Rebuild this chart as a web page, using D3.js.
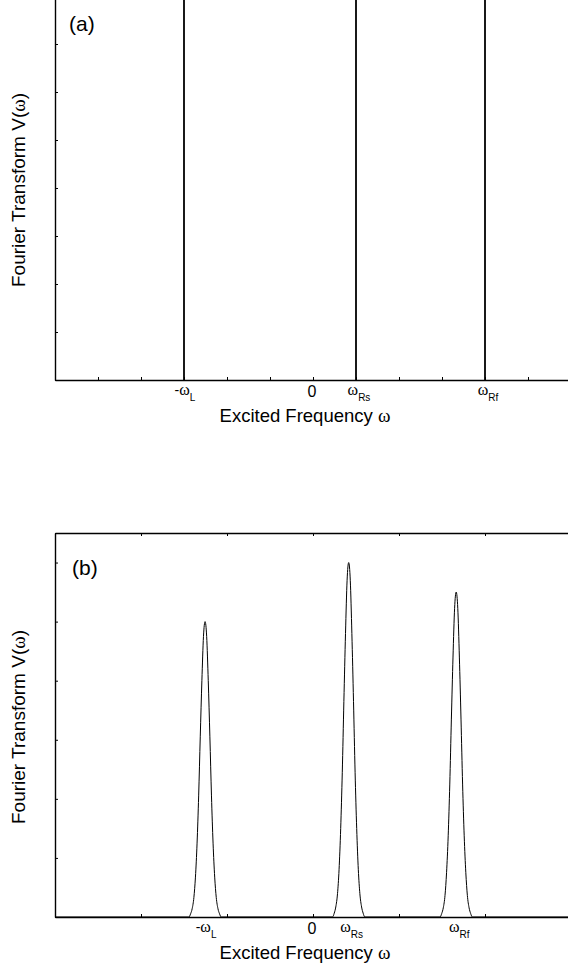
<!DOCTYPE html>
<html>
<head>
<meta charset="utf-8">
<script src="https://cdn.jsdelivr.net/npm/d3@7"></script>
<style>
  html, body { margin: 0; padding: 0; background: #fff; }
  svg { display: block; }
  text { font-family: "Liberation Sans", Arial, sans-serif; fill: #000; }
</style>
</head>
<body>
<script>
// ---------- DATA ----------
// x axis in arbitrary frequency units (0 at the origin)
const xDomain = [-6, 6];

// Panel (a): delta-function lines
const deltaPositions = [-3, 1, 4];
const tickLabelsA = ["-ωL", "0", "ωRs", "ωRf"];
const tickPositionsA = [-3, 0, 1, 4];
const yDomainA = [0, 8];

// Panel (b): broadened peaks
const peakLX = [-2.886,-2.846,-2.810,-2.770,-2.734,-2.696,-2.659,-2.622,-2.584,-2.547,-2.510,-2.473,-2.436,-2.398,-2.361,-2.324,-2.286,-2.250,-2.210,-2.174,-2.134];
const peakLY = [0,0.011,0.028,0.066,0.135,0.25,0.41,0.61,0.80,0.95,1.0,0.95,0.80,0.61,0.41,0.25,0.135,0.066,0.028,0.011,0];
const peakRsX = [0.454,0.494,0.530,0.570,0.606,0.644,0.681,0.718,0.756,0.793,0.830,0.867,0.904,0.942,0.979,1.016,1.054,1.090,1.130,1.166,1.206];
const peakRsY = [0,0.013,0.034,0.079,0.16,0.30,0.49,0.73,0.96,1.14,1.2,1.14,0.96,0.73,0.49,0.30,0.16,0.079,0.034,0.013,0];
const peakRfX = [2.954,2.994,3.030,3.070,3.106,3.144,3.181,3.218,3.256,3.293,3.330,3.367,3.404,3.442,3.479,3.516,3.554,3.590,3.630,3.666,3.706];
const peakRfY = [0,0.012,0.031,0.073,0.15,0.275,0.45,0.67,0.88,1.045,1.1,1.045,0.88,0.67,0.45,0.275,0.15,0.073,0.031,0.012,0];
const tickLabelsB = ["-ωL", "0", "ωRs", "ωRf"];
const tickPositionsB = [-2.51, 0, 0.83, 3.33];
const yDomainB = [0, 1.3];

const xTitle = "Excited Frequency ";
const yTitle = "Fourier Transform V(";
const panelLabels = ["(a)", "(b)"];

// ---------- LAYOUT ----------
const W = 568, H = 970;
const svg = d3.select("body").append("svg").attr("width", W).attr("height", H);

const x = d3.scaleLinear().domain(xDomain).range([55, 571]);
const yA = d3.scaleLinear().domain(yDomainA).range([380, -4]);
const yB = d3.scaleLinear().domain(yDomainB).range([917, 533]);

function drawFrame(y, yTickStep, xBottomStep, xTopStep) {
  const g = svg.append("g");
  const [y0, y1] = y.range();
  const bottomAxis = d3.axisBottom(x)
    .tickValues(d3.range(xDomain[0], xDomain[1] + 0.001, xBottomStep))
    .tickSize(-3).tickSizeOuter(0).tickFormat("");
  g.append("g").attr("transform", `translate(0,${y0})`).call(bottomAxis);
  const topAxis = d3.axisTop(x)
    .tickValues(d3.range(xDomain[0], xDomain[1] + 0.001, xTopStep))
    .tickSize(-3).tickSizeOuter(0).tickFormat("");
  g.append("g").attr("transform", `translate(0,${y1})`).call(topAxis);
  const dom = y.domain();
  const leftAxis = d3.axisLeft(y)
    .tickValues(d3.range(dom[0], dom[1] + 1e-6, yTickStep))
    .tickSize(-3).tickSizeOuter(0).tickFormat("");
  g.append("g").attr("transform", `translate(${x.range()[0]},0)`).call(leftAxis);
  g.append("g").attr("transform", `translate(${x.range()[1]},0)`).call(d3.axisRight(y)
    .tickValues(d3.range(dom[0], dom[1] + 1e-6, yTickStep))
    .tickSize(-3).tickSizeOuter(0).tickFormat(""));
  g.selectAll(".domain").attr("stroke", "#000").attr("stroke-width", 1.4);
  g.selectAll(".tick line").attr("stroke", "#000").attr("stroke-width", 1);
}

function drawTickLabels(labels, positions, axisY) {
  labels.forEach((lab, i) => {
    const px = x(positions[i]);
    const t = svg.append("text").attr("x", px).attr("y", axisY + 15)
      .attr("text-anchor", "middle");
    if (lab === "0") {
      t.attr("x", px - 1).attr("y", axisY + 17).style("font-size", "16px").text("0");
      return;
    }
    const hasMinus = lab.startsWith("-");
    const sub = lab.replace("-", "").slice(1);
    if (hasMinus) t.append("tspan").style("font-size", "14px").text("-");
    t.append("tspan").style("font-family", "'Liberation Serif', 'DejaVu Serif', serif")
      .style("font-size", "16px").text("ω");
    t.append("tspan").attr("dy", 6).style("font-size", "10px").text(sub);
    t.attr("dx", hasMinus ? 1 : 3);
  });
}

function drawXTitle(axisY) {
  const t = svg.append("text").attr("x", x(0) - 8).attr("y", axisY + 42)
    .attr("text-anchor", "middle").style("font-size", "18.5px");
  t.append("tspan").text(xTitle);
  t.append("tspan").style("font-family", "'Liberation Serif', 'DejaVu Serif', serif")
    .style("font-size", "19px").text("ω");
}

function drawYTitle(y) {
  const cy = (y.range()[0] + y.range()[1]) / 2;
  const t = svg.append("text").attr("transform", `translate(25,${cy + 2}) rotate(-90)`)
    .attr("text-anchor", "middle").style("font-size", "19px");
  t.append("tspan").text(yTitle);
  t.append("tspan").style("font-family", "'Liberation Serif', 'DejaVu Serif', serif").text("ω");
  t.append("tspan").text(")");
}

// ---------- PANEL (a) ----------
drawFrame(yA, 1, 1, 1);
svg.append("g").selectAll("line").data(deltaPositions).join("line")
  .attr("x1", d => x(d)).attr("x2", d => x(d))
  .attr("y1", yA(0)).attr("y2", yA(yDomainA[1]))
  .attr("stroke", "#000").attr("stroke-width", 1.8);
drawTickLabels(tickLabelsA, tickPositionsA, yA(0));
drawXTitle(yA(0));
drawYTitle(yA);
svg.append("text").attr("x", 69).attr("y", 31).style("font-size", "21px").text(panelLabels[0]);

// ---------- PANEL (b) ----------
drawFrame(yB, 0.2, 2, 2);
const seriesB = [{x: xDomain[0], y: 0}]
  .concat(peakLX.map((v, i) => ({x: v, y: peakLY[i]})))
  .concat(peakRsX.map((v, i) => ({x: v, y: peakRsY[i]})))
  .concat(peakRfX.map((v, i) => ({x: v, y: peakRfY[i]})))
  .concat([{x: xDomain[1], y: 0}]);
svg.append("path").datum(seriesB)
  .attr("fill", "none").attr("stroke", "#000").attr("stroke-width", 1)
  .attr("d", d3.line().x(d => x(d.x)).y(d => yB(d.y)).curve(d3.curveMonotoneX));
drawTickLabels(tickLabelsB, tickPositionsB, yB(0));
drawXTitle(yB(0));
drawYTitle(yB);
svg.append("text").attr("x", 72).attr("y", 575).style("font-size", "21px").text(panelLabels[1]);
</script>
</body>
</html>
